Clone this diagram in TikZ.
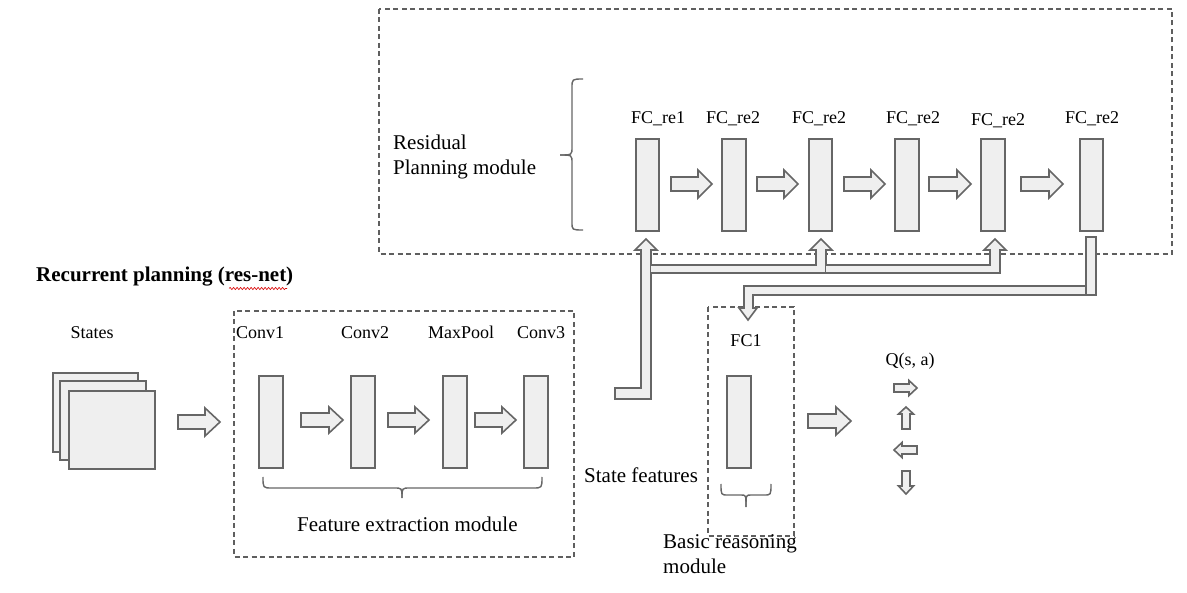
\documentclass[tikz,border=0pt]{standalone}
\usepackage{fontspec}
\setmainfont{Liberation Serif}
\usetikzlibrary{decorations.pathmorphing}
\definecolor{boxfill}{HTML}{EFEFEF}
\definecolor{boxline}{HTML}{666666}
\definecolor{dashline}{HTML}{5F5F5F}
\newcommand{\rarrowshape}[6]{% x1 x2 xh y s h
  \fill[boxfill] (#1,#4-#5) -- (#3,#4-#5) -- (#3,#4-#6) -- (#2,#4) -- (#3,#4+#6) -- (#3,#4+#5) -- (#1,#4+#5) -- cycle;
  \draw[shapeline] (#1,#4-#5) -- (#3,#4-#5) -- (#3,#4-#6) -- (#2,#4) -- (#3,#4+#6) -- (#3,#4+#5) -- (#1,#4+#5) -- cycle;}
\newcommand{\varrowshape}[6]{% y1 y2 yh x s h
  \fill[boxfill] (#4-#5,#1) -- (#4-#5,#3) -- (#4-#6,#3) -- (#4,#2) -- (#4+#6,#3) -- (#4+#5,#3) -- (#4+#5,#1) -- cycle;
  \draw[shapeline] (#4-#5,#1) -- (#4-#5,#3) -- (#4-#6,#3) -- (#4,#2) -- (#4+#6,#3) -- (#4+#5,#3) -- (#4+#5,#1) -- cycle;}
\begin{document}
\begin{tikzpicture}[x=1pt,y=-1pt,
  shapeline/.style={draw=boxline,line width=1.6pt,line join=miter},
  layer/.style={draw=boxline,fill=boxfill,line width=1.6pt},
  module/.style={draw=dashline,line width=1.4pt,dash pattern=on 5pt off 3.5pt},
  bracepath/.style={draw=boxline,line width=1.4pt},
  bigtext/.style={inner sep=0pt,font=\fontsize{21}{25}\selectfont},
  smalltext/.style={inner sep=0pt,font=\fontsize{18}{21}\selectfont}]
\useasboundingbox (0,0) rectangle (1187,593);
\fill[white] (0,0) rectangle (1187,593);

% module frames
\draw[module] (379,9) rectangle (1172,254);
\draw[module] (234,311) rectangle (574,557);
\draw[module] (708,307) rectangle (794,536);

% title
\node[bigtext,font=\fontsize{21}{25}\selectfont\bfseries,anchor=base west] (title) at (36,282) {Recurrent planning (res-net)};
\draw[red!85!black,line width=0.6pt,decorate,decoration={snake,amplitude=1.1pt,segment length=3.5pt}] (229,288.5) -- (287,288.5);

% states
\node[smalltext,anchor=base] (stateslbl) at (92,339) {States};
\draw[layer] (53,373) rectangle (138,452);
\draw[layer] (60,381) rectangle (146,460);
\draw[layer] (69,391) rectangle (155,469);
\rarrowshape{178}{220}{205}{422}{7}{14}

% feature extraction
\node[smalltext,anchor=base west] (conv1lbl) at (236,339) {Conv1};
\node[smalltext,anchor=base west] (conv2lbl) at (341,339) {Conv2};
\node[smalltext,anchor=base west] (poollbl) at (428,339) {MaxPool};
\node[smalltext,anchor=base west] (conv3lbl) at (517,339) {Conv3};
\draw[layer] (259,376) rectangle (283,468);
\draw[layer] (351,376) rectangle (375,468);
\draw[layer] (443,376) rectangle (467,468);
\draw[layer] (524,376) rectangle (548,468);
\rarrowshape{301}{343}{329}{420}{7}{13}
\rarrowshape{388}{429}{415}{420}{7}{13}
\rarrowshape{475}{516}{502}{420}{7}{13}
\draw[bracepath] (263,477) .. controls (263,488) .. (272,488) -- (394,488) .. controls (402,488) .. (402,498);
\draw[bracepath] (402,498) .. controls (402,488) .. (410,488) -- (533,488) .. controls (542,488) .. (542,477);
\node[bigtext,anchor=base west] (femlbl) at (297,532) {Feature extraction module};

\node[bigtext,anchor=base west] (sflbl) at (584,483) {State features};

% residual planning module
\node[bigtext,anchor=base west] (rpm1) at (393,150) {Residual};
\node[bigtext,anchor=base west] (rpm2) at (393,175) {Planning module};
\draw[bracepath] (583,79) .. controls (572,79) .. (572,88) -- (572,147) .. controls (572,155) .. (560,155);
\draw[bracepath] (560,155) .. controls (572,155) .. (572,163) -- (572,222) .. controls (572,230) .. (583,230);

\node[smalltext,anchor=base] (re1lbl) at (658,124) {FC\_re1};
\node[smalltext,anchor=base] (re2lbl) at (733,124) {FC\_re2};
\node[smalltext,anchor=base] (re3lbl) at (819,124) {FC\_re2};
\node[smalltext,anchor=base] (re4lbl) at (913,124) {FC\_re2};
\node[smalltext,anchor=base] (re5lbl) at (998,126) {FC\_re2};
\node[smalltext,anchor=base] (re6lbl) at (1092,124) {FC\_re2};
\draw[layer] (636,139) rectangle (659,231);
\draw[layer] (722,139) rectangle (746,231);
\draw[layer] (809,139) rectangle (832,231);
\draw[layer] (895,139) rectangle (919,231);
\draw[layer] (981,139) rectangle (1005,231);
\draw[layer] (1080,139) rectangle (1103,231);
\rarrowshape{671}{712}{698}{184}{7}{14}
\rarrowshape{757}{798}{784}{184}{7}{14}
\rarrowshape{844}{885}{871}{184}{7}{14}
\rarrowshape{929}{971}{957}{184}{7}{14}
\rarrowshape{1021}{1063}{1049}{184}{7}{14}

% feature connector into residual module
\filldraw[shapeline,fill=boxfill] (615,388) -- (641,388) -- (641,250) -- (635,250) -- (646,239) -- (657,250) -- (651,250) -- (651,399) -- (615,399) -- cycle;
\filldraw[shapeline,fill=boxfill] (651,265) -- (816,265) -- (816,250) -- (810,250) -- (821,239) -- (832,250) -- (826,250) -- (826,273) -- (651,273);
\filldraw[shapeline,fill=boxfill] (826,265) -- (990,265) -- (990,250) -- (984,250) -- (995,239) -- (1006,250) -- (1000,250) -- (1000,273) -- (826,273);

% output of residual module to FC1
\filldraw[shapeline,fill=boxfill] (1086,286) -- (744,286) -- (744,308) -- (739,308) -- (748,320) -- (757,308) -- (753,308) -- (753,295) -- (1086,295);
\filldraw[shapeline,fill=boxfill] (1086,237) rectangle (1096,295);

% basic reasoning
\node[smalltext,anchor=base] (fc1lbl) at (746,347) {FC1};
\draw[layer] (727,376) rectangle (751,468);
\draw[bracepath] (721,484) .. controls (721,495) .. (728,495) -- (741,495) .. controls (746,495) .. (746,507);
\draw[bracepath] (746,507) .. controls (746,495) .. (751,495) -- (764,495) .. controls (771,495) .. (771,484);
\node[bigtext,anchor=base west] (brm1) at (663,548) {Basic reasoning};
\node[bigtext,anchor=base west] (brm2) at (663,573) {module};

% output
\rarrowshape{808}{851}{836}{421}{7}{14}
\node[smalltext,anchor=base] (qlbl) at (910,366) {Q(s, a)};
\rarrowshape{894}{917}{909}{388}{4}{7.5}
\varrowshape{429}{407}{414}{906}{4}{7.5}
\rarrowshape{917}{894}{902}{450}{4}{7.5}
\varrowshape{471}{494}{486}{906}{4}{7.5}
\end{tikzpicture}
\end{document}
